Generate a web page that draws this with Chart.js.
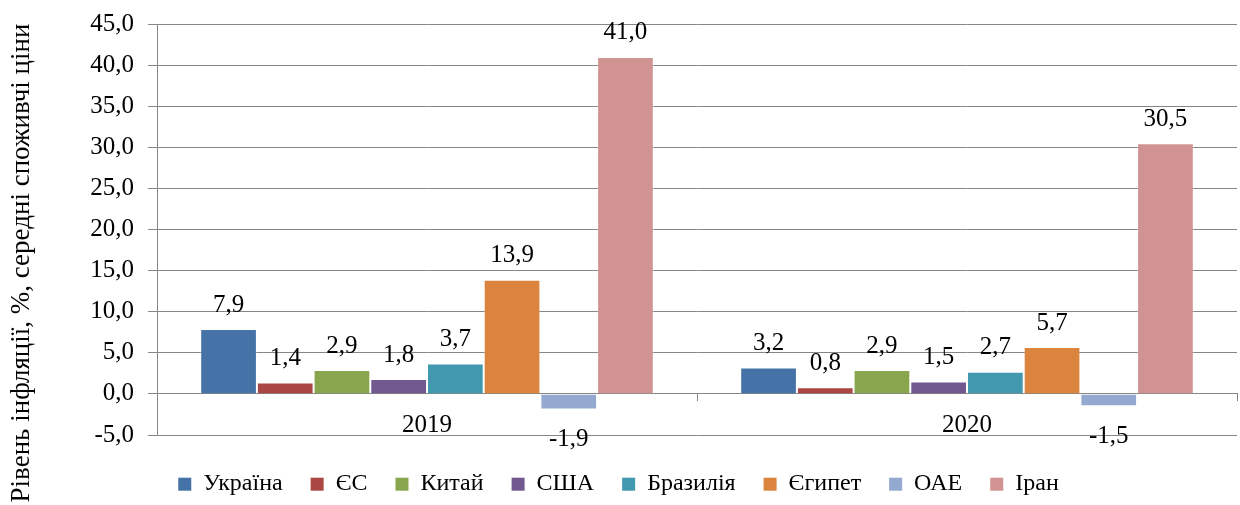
<!DOCTYPE html>
<html lang="uk">
<head>
<meta charset="utf-8">
<title>Рівень інфляції</title>
<script src="https://cdn.jsdelivr.net/npm/chart.js@4.4.1/dist/chart.umd.min.js"></script>
<style>
  html, body { margin: 0; padding: 0; background: #fff; }
  #chart { display: block; }
</style>
</head>
<body>
<canvas id="chart" width="1240" height="505"></canvas>
<script>
// chart values
const years = ['2019', '2020'];
const countries = ['Україна', 'ЄС', 'Китай', 'США', 'Бразилія', 'Єгипет', 'ОАЕ', 'Іран'];
const ukraine = [7.9, 3.2];
const eu = [1.4, 0.8];
const china = [2.9, 2.9];
const usa = [1.8, 1.5];
const brazil = [3.7, 2.7];
const egypt = [13.9, 5.7];
const uae = [-1.9, -1.5];
const iran = [41.0, 30.5];
const yMin = -5;
const yMax = 45;
const yStep = 5;
const axisTitle = 'Рівень інфляції, %, середні споживчі ціни';

const seriesValues = [ukraine, eu, china, usa, brazil, egypt, uae, iran];
const seriesColors = ['#4572A7', '#AA4643', '#89A54E', '#71588F', '#4198AF', '#DB843D', '#93A9CF', '#D19392'];

const FONT = '"Liberation Serif", "Times New Roman", serif';
const GRID = '#868686';

const fmt = v => v.toFixed(1).replace('.', ',');

// numbers above / below the bars
const valueLabels = {
    id: 'valueLabels',
    afterDatasetsDraw(chart) {
        const ctx = chart.ctx;
        ctx.save();
        ctx.font = '25px ' + FONT;
        ctx.fillStyle = '#000';
        ctx.textAlign = 'center';
        ctx.textBaseline = 'middle';
        chart.data.datasets.forEach((ds, i) => {
            chart.getDatasetMeta(i).data.forEach((bar, j) => {
                const v = ds.data[j];
                const y = v >= 0 ? bar.y - 24 : bar.y + 30;
                ctx.fillText(fmt(v), bar.x, y);
            });
        });
        ctx.restore();
    }
};

// rotated y title, centred on the whole canvas height like the original
const yTitle = {
    id: 'yTitle',
    afterDraw(chart) {
        const ctx = chart.ctx;
        ctx.save();
        ctx.translate(22, 263);
        ctx.rotate(-Math.PI / 2);
        ctx.font = '27px ' + FONT;
        ctx.fillStyle = '#000';
        ctx.textAlign = 'center';
        ctx.textBaseline = 'middle';
        ctx.fillText(axisTitle, 0, 0);
        ctx.restore();
    }
};

// fixed legend strip height at the bottom
const legendBox = {
    id: 'legendBox',
    beforeInit(chart) {
        const fit = chart.legend.fit;
        chart.legend.fit = function () {
            fit.call(this);
            this.height = 70;
        };
    }
};

new Chart(document.getElementById('chart'), {
    type: 'bar',
    data: {
        labels: years,
        datasets: countries.map((name, i) => ({
            label: name,
            data: seriesValues[i],
            backgroundColor: seriesColors[i],
            borderColor: 'rgba(255,255,255,0.3)',
            borderWidth: 1,
            categoryPercentage: 0.84,
            barPercentage: 1.0
        }))
    },
    options: {
        responsive: false,
        animation: false,
        layout: { padding: { top: 10, right: 3, left: 0, bottom: 0 } },
        scales: {
            x: {
                position: { y: 0 },
                grid: { drawOnChartArea: false, drawTicks: true, tickLength: 7, offset: true, color: GRID },
                border: { display: true, color: GRID },
                ticks: { color: '#000', font: { family: FONT, size: 25 }, padding: 10 }
            },
            y: {
                min: yMin,
                max: yMax,
                afterFit(scale) { scale.width = 157; },
                grid: { color: GRID, tickLength: 9 },
                border: { display: true, color: GRID },
                ticks: {
                    stepSize: yStep,
                    color: '#000',
                    font: { family: FONT, size: 25, lineHeight: 0.8 },
                    padding: 14,
                    callback: v => fmt(v)
                }
            }
        },
        plugins: {
            tooltip: { enabled: false },
            legend: {
                position: 'bottom',
                title: { display: true, text: '', font: { size: 1 }, padding: { top: 8, bottom: 0 } },
                labels: {
                    boxWidth: 13,
                    boxHeight: 13,
                    padding: 28,
                    color: '#000',
                    font: { family: FONT, size: 24 },
                    generateLabels(chart) {
                        return chart.data.datasets.map((ds, i) => ({
                            text: ds.label,
                            fillStyle: ds.backgroundColor,
                            strokeStyle: ds.backgroundColor,
                            lineWidth: 0,
                            fontColor: '#000',
                            datasetIndex: i,
                            hidden: false
                        }));
                    }
                }
            }
        }
    },
    plugins: [valueLabels, yTitle, legendBox]
});
</script>
</body>
</html>
